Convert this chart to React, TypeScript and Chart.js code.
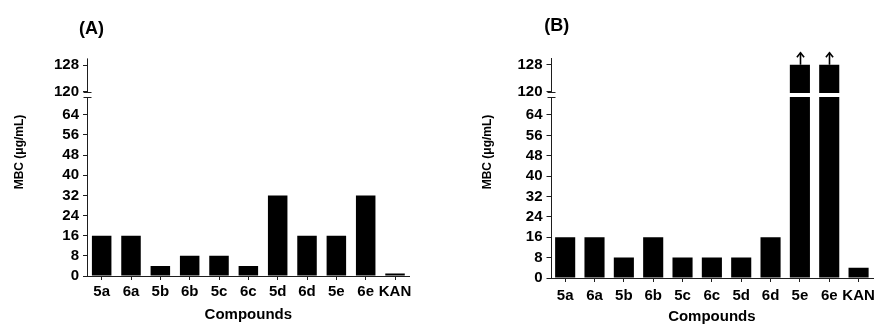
import React, { useEffect, useRef } from 'react';
import { Chart, registerables, LinearScale } from 'chart.js';

// ---------- data ----------
const categories = ['5a', '6a', '5b', '6b', '5c', '6c', '5d', '6d', '5e', '6e', 'KAN'];
const mbcA = [16, 16, 4, 8, 8, 4, 32, 16, 16, 32, 1];
const mbcB = [16, 16, 8, 16, 8, 8, 8, 16, 128, 128, 4];
const yTickValues = [0, 8, 16, 24, 32, 40, 48, 56, 64, 120, 128];
const panelLabels = ['(A)', '(B)'];
const xTitle = 'Compounds';
const yTitle = 'MBC (\u03bcg/mL)';
const arrowThreshold = 128; // bars at this value are drawn with an upward arrow (">=")

// ---------- broken axis definition ----------
const LOW_MAX = 71;
const HIGH_MIN = 120;
const HIGH_MAX = 130;
const LOW_FRAC = 0.822;
const GAP_FRAC = 0.025;
const HIGH_FRAC = 1 - LOW_FRAC - GAP_FRAC;

class BrokenLinearScale extends LinearScale {
  static id = 'brokenLinear';
  getPixelForValue(value: number) {
    if (value === null || value === undefined || isNaN(value)) return NaN;
    const h = this.bottom - this.top;
    let f: number;
    if (value <= LOW_MAX) f = (value / LOW_MAX) * LOW_FRAC;
    else if (value < HIGH_MIN) f = LOW_FRAC + ((value - LOW_MAX) / (HIGH_MIN - LOW_MAX)) * GAP_FRAC;
    else f = LOW_FRAC + GAP_FRAC + ((value - HIGH_MIN) / (HIGH_MAX - HIGH_MIN)) * HIGH_FRAC;
    return this.bottom - f * h;
  }
  getValueForPixel(pixel: number) {
    const h = this.bottom - this.top;
    const f = (this.bottom - pixel) / h;
    if (f <= LOW_FRAC) return (f / LOW_FRAC) * LOW_MAX;
    if (f < LOW_FRAC + GAP_FRAC) return LOW_MAX + ((f - LOW_FRAC) / GAP_FRAC) * (HIGH_MIN - LOW_MAX);
    return HIGH_MIN + ((f - LOW_FRAC - GAP_FRAC) / HIGH_FRAC) * (HIGH_MAX - HIGH_MIN);
  }
}

Chart.register(...registerables, BrokenLinearScale);

const FONT = "Arial, 'Liberation Sans', sans-serif";
const AXIS = '#1e1e1e';

type PanelCfg = {
  label: string;
  values: number[];
  left: number;
  pad: { top: number; right: number; left: number; bottom: number };
  yWidth: number;
  xHeight: number;
  xTickPad: number;
  xTitlePad: number;
  barPct: number;
  labelPos: [number, number];
  yTitlePos: [number, number];
};

const panels: PanelCfg[] = [
  {
    label: panelLabels[0],
    values: mbcA,
    left: 0,
    pad: { top: 58.4, right: 30.3, left: 0, bottom: 0 },
    yWidth: 87,
    xHeight: 51,
    xTickPad: 3,
    xTitlePad: 3.2,
    barPct: 0.665,
    labelPos: [91.5, 29.5],
    yTitlePos: [20, 152],
  },
  {
    label: panelLabels[1],
    values: mbcB,
    left: 440,
    pad: { top: 58, right: 4, left: 0, bottom: 0 },
    yWidth: 110.5,
    xHeight: 49,
    xTickPad: 5,
    xTitlePad: 1.2,
    barPct: 0.685,
    labelPos: [116.7, 26],
    yTitlePos: [48, 152],
  },
];

function line(ctx: CanvasRenderingContext2D, x1: number, y1: number, x2: number, y2: number) {
  ctx.beginPath();
  ctx.moveTo(x1, y1);
  ctx.lineTo(x2, y2);
  ctx.stroke();
}

function Panel({ cfg }: { cfg: PanelCfg }) {
  const ref = useRef<HTMLCanvasElement | null>(null);
  useEffect(() => {
    if (!ref.current) return;
    const decorPlugin = {
      id: 'decor',
      afterDatasetsDraw(chart: any) {
        const { ctx } = chart;
        const meta = chart.getDatasetMeta(0);
        ctx.save();
        ctx.strokeStyle = '#000';
        ctx.lineWidth = 1.6;
        meta.data.forEach((bar: any, i: number) => {
          if (cfg.values[i] >= arrowThreshold) {
            const x = Math.round(bar.x) + 0.5;
            const top = bar.y;
            line(ctx, x, top, x, top - 12);
            ctx.beginPath();
            ctx.moveTo(x - 3.6, top - 7.5);
            ctx.lineTo(x, top - 12);
            ctx.lineTo(x + 3.6, top - 7.5);
            ctx.stroke();
          }
        });
        ctx.restore();
      },
      afterDraw(chart: any) {
        const { ctx, chartArea } = chart;
        const y = chart.scales.y;
        const left = Math.round(chartArea.left) + 0.5;
        const pLow = Math.round(y.getPixelForValue(LOW_MAX)) + 0.5;
        const pHigh = Math.round(y.getPixelForValue(HIGH_MIN)) + 0.5;
        ctx.save();
        // white break gap
        ctx.fillStyle = '#fff';
        ctx.fillRect(left + 0.5, pHigh + 0.5, chartArea.right - left, pLow - pHigh - 1);
        // y axis segments
        ctx.strokeStyle = AXIS;
        ctx.lineWidth = 1;
        line(ctx, left, chartArea.bottom, left, pLow);
        line(ctx, left, pHigh, left, chartArea.top);
        line(ctx, left - 4, pLow, left + 4, pLow);
        line(ctx, left - 4, pHigh, left + 4, pHigh);
        // panel label
        ctx.fillStyle = '#000';
        ctx.font = `bold 18px ${FONT}`;
        ctx.textAlign = 'center';
        ctx.textBaseline = 'middle';
        ctx.fillText(cfg.label, cfg.labelPos[0], cfg.labelPos[1]);
        // y title
        ctx.translate(cfg.yTitlePos[0], cfg.yTitlePos[1]);
        ctx.rotate(-Math.PI / 2);
        ctx.font = `bold 12px ${FONT}`;
        ctx.fillText(yTitle, 0, 0);
        ctx.restore();
      },
    };

    const chart = new Chart(ref.current, {
      type: 'bar',
      data: {
        labels: categories,
        datasets: [
          {
            data: cfg.values,
            backgroundColor: '#000',
            borderWidth: 0,
            barPercentage: cfg.barPct,
            categoryPercentage: 1,
          },
        ],
      },
      options: {
        responsive: false,
        animation: false,
        devicePixelRatio: 1,
        layout: { padding: cfg.pad },
        plugins: { legend: { display: false }, tooltip: { enabled: false }, title: { display: false } },
        scales: {
          x: {
            type: 'category',
            grid: { display: true, drawOnChartArea: false, drawTicks: true, tickLength: 4, offset: false, color: AXIS },
            border: { display: true, color: AXIS, width: 1 },
            ticks: { color: '#000', font: { family: FONT, size: 15, weight: 'bold' }, padding: cfg.xTickPad, maxRotation: 0, autoSkip: false },
            title: { display: true, text: xTitle, color: '#000', font: { family: FONT, size: 15, weight: 'bold' }, padding: { top: 0, bottom: cfg.xTitlePad } },
            afterFit: (s: any) => {
              s.height = cfg.xHeight;
            },
          },
          y: {
            type: 'brokenLinear' as any,
            min: 0,
            max: HIGH_MAX,
            grid: { display: true, drawOnChartArea: false, drawTicks: true, tickLength: 4, color: AXIS },
            border: { display: false },
            ticks: { color: '#000', font: { family: FONT, size: 15, weight: 'bold' }, padding: 4, autoSkip: false },
            afterBuildTicks: (s: any) => {
              s.ticks = yTickValues.map((v) => ({ value: v }));
            },
            afterFit: (s: any) => {
              s.width = cfg.yWidth;
            },
          },
        },
      },
      plugins: [decorPlugin],
    } as any);
    return () => chart.destroy();
  }, [cfg]);
  return (
    <div style={{ position: 'absolute', left: cfg.left, top: 0, width: 440, height: 327 }}>
      <canvas ref={ref} width={440} height={327} style={{ display: 'block', width: 440, height: 327 }} />
    </div>
  );
}

export default function App() {
  return (
    <div style={{ position: 'absolute', left: 0, top: 0, width: 880, height: 327, background: '#fff', overflow: 'hidden' }}>
      {panels.map((p) => (
        <Panel key={p.label} cfg={p} />
      ))}
    </div>
  );
}
